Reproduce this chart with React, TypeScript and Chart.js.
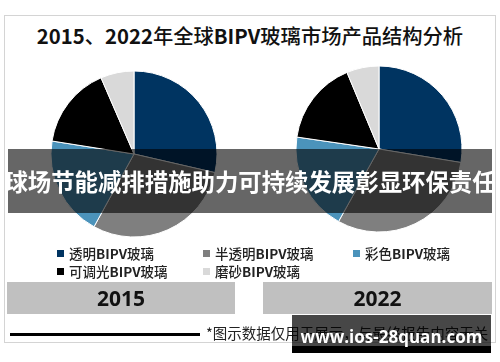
import React, { useEffect, useRef } from "react";
import { Chart, registerables } from "chart.js";

Chart.register(...registerables);

const categories = ["透明BIPV玻璃", "半透明BIPV玻璃", "彩色BIPV玻璃", "可调光BIPV玻璃", "磨砂BIPV玻璃"];
const values2015 = [28.6, 29.4, 19.5, 16.0, 6.5];
const values2022 = [27.6, 30.5, 19.2, 16.4, 6.3];
const sliceColors = ["#003461", "#7f7f7f", "#4b93bb", "#000000", "#d9d9d9"];
const years = ["2015", "2022"];
const titleText = "2015、2022年全球BIPV玻璃市场产品结构分析";
const bannerText = "球场节能减排措施助力可持续发展彰显环保责任";
const footnoteText = "*图示数据仅用于展示，与最终报告内容无关";
const watermarkText = "www.ios-28quan.com";

const CJK = '"Noto Sans CJK SC", "Noto Sans", sans-serif';

function PieCanvas({ data, left, top }: { data: number[]; left: number; top: number }) {
  const ref = useRef<HTMLCanvasElement | null>(null);
  useEffect(() => {
    if (!ref.current) return;
    const chart = new Chart(ref.current, {
      type: "pie",
      data: {
        labels: categories,
        datasets: [
          {
            data,
            backgroundColor: sliceColors,
            borderColor: "#ffffff",
            borderWidth: 1,
          },
        ],
      },
      options: {
        animation: false,
        responsive: false,
        devicePixelRatio: 1,
        radius: 83,
        layout: { padding: 0 },
        plugins: { legend: { display: false }, tooltip: { enabled: false } },
      },
    });
    return () => chart.destroy();
  }, [data]);
  return (
    <canvas
      ref={ref}
      width={180}
      height={180}
      style={{ position: "absolute", left, top, width: 180, height: 180 }}
    />
  );
}

// split mixed text into latin/cjk runs so latin parts can be bold
function MixedText({ text, latinWeight, cjkWeight }: { text: string; latinWeight: number; cjkWeight: number }) {
  const parts = text.match(/[A-Za-z0-9.\-]+|[^A-Za-z0-9.\-]+/g) || [];
  return (
    <>
      {parts.map((p, i) => (
        <span key={i} style={{ fontWeight: /[A-Za-z0-9]/.test(p) ? latinWeight : cjkWeight }}>
          {p}
        </span>
      ))}
    </>
  );
}

const legendPos = [
  { x: 57, y: 253 },
  { x: 203, y: 253 },
  { x: 353, y: 253 },
  { x: 57, y: 271 },
  { x: 203, y: 271 },
];

export default function App() {
  return (
    <div style={{ position: "absolute", left: 0, top: 0, width: 500, height: 362, background: "#fff", overflow: "hidden", fontFamily: CJK }}>
      {/* frame */}
      <div style={{ position: "absolute", left: 4, top: 15, width: 490, height: 326, border: "1px solid #d4d4d4" }} />
      {/* title */}
      <div style={{ position: "absolute", left: 0, top: 22, width: 500, textAlign: "center", fontSize: 20.3, lineHeight: "26px", color: "#111" }}>
        <MixedText text={titleText} latinWeight={700} cjkWeight={500} />
      </div>
      <PieCanvas data={values2015} left={44} top={64} />
      <PieCanvas data={values2022} left={289} top={59} />
      {/* legend */}
      {categories.map((c, i) => (
        <div key={c} style={{ position: "absolute", left: legendPos[i].x, top: legendPos[i].y - 9, height: 18, display: "flex", alignItems: "center", fontSize: 13.5, color: "#222", whiteSpace: "nowrap" }}>
          <span style={{ display: "inline-block", width: 7, height: 7, background: sliceColors[i], marginRight: 5 }} />
          <MixedText text={c} latinWeight={700} cjkWeight={500} />
        </div>
      ))}
      {/* year boxes */}
      {years.map((y, i) => (
        <div key={y} style={{ position: "absolute", left: i === 0 ? 7 : 263, top: 282, width: i === 0 ? 228 : 229, height: 32, background: "#c0c0c0", textAlign: "center", lineHeight: "32px", fontFamily: '"Open Sans", sans-serif', fontWeight: 700, fontSize: 21, color: "#111" }}>
          {y}
        </div>
      ))}
      {/* footnote */}
      <div style={{ position: "absolute", left: 10, top: 333, width: 190, height: 3, background: "#000" }} />
      <div style={{ position: "absolute", left: 206, top: 324, fontSize: 14.5, lineHeight: "18px", color: "#222", whiteSpace: "nowrap" }}>
        {footnoteText}
      </div>
      {/* banner overlay */}
      <div style={{ position: "absolute", left: 8, top: 149, width: 484, height: 64, background: "rgba(0,0,0,0.6)", display: "flex", alignItems: "center", justifyContent: "center", overflow: "hidden" }}>
        <span style={{ color: "#fff", fontWeight: 700, fontSize: 23.4, whiteSpace: "nowrap", letterSpacing: 0 }}>{bannerText}</span>
      </div>
      {/* watermark */}
      <div style={{ position: "absolute", left: 292, top: 315, width: 199, height: 31, background: "rgba(0,0,0,0.72)" }} />
      <div style={{ position: "absolute", left: 292, top: 346, width: 199, height: 7, background: "#000" }} />
      <div style={{ position: "absolute", left: 292, top: 326, width: 199, textAlign: "center", lineHeight: "22px", color: "#fff", fontFamily: '"Open Sans", sans-serif', fontWeight: 700, fontSize: 17 }}>
        {watermarkText}
      </div>
    </div>
  );
}
